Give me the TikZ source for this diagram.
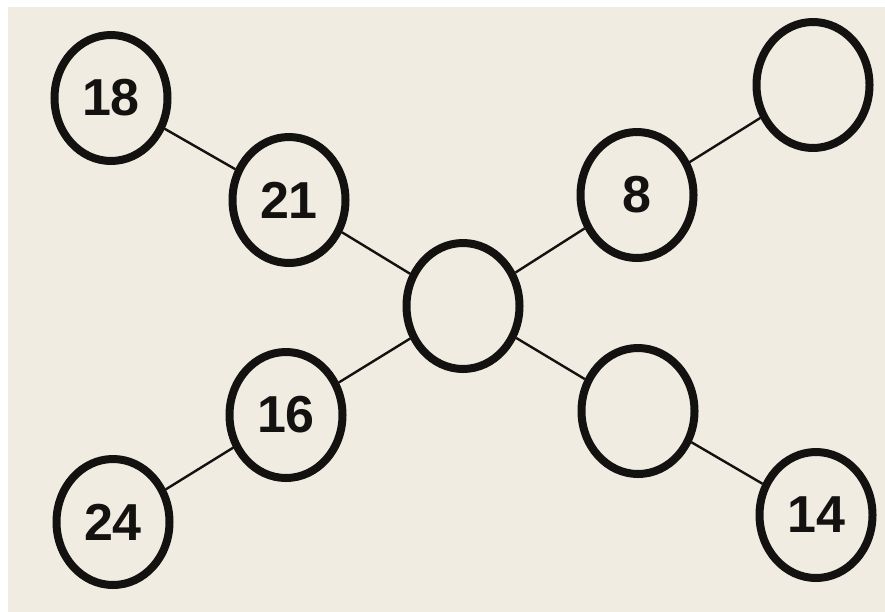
\documentclass[tikz,border=0pt]{standalone}
\usepackage{fontspec}
\setmainfont{Liberation Sans}
\usetikzlibrary{shapes.geometric}
\definecolor{sheetPaper}{HTML}{F0ECE1}
\definecolor{sheetInk}{HTML}{141210}
\tikzset{
  every picture/.style={font=\bfseries\fontsize{52}{58}\selectfont, text=sheetInk},
  sheet ring/.style={ellipse, draw=sheetInk, line width=8pt, fill=sheetPaper,
    minimum width=113pt, minimum height=126pt, inner sep=0pt},
  sheet link/.style={draw=sheetInk, line width=2.4pt}
}
\begin{document}
\begin{tikzpicture}[x=1pt,y=-1pt]
  \useasboundingbox (0,0) rectangle (885,611);
  \fill[white] (0,0) rectangle (885,611);
  \fill[sheetPaper] (8,7) rectangle (886,612);
  % rings
  \node[sheet ring] (hub) at (463,306) {};
  \node[sheet ring] (nwInner) at (289,200) {21};
  \node[sheet ring] (nwOuter) at (111,98) {18};
  \node[sheet ring] (neInner) at (637,195) {8};
  \node[sheet ring] (neOuter) at (813,85) {};
  \node[sheet ring] (swInner) at (286,415) {16};
  \node[sheet ring] (swOuter) at (113,522) {24};
  \node[sheet ring] (seInner) at (638,411) {};
  \node[sheet ring] (seOuter) at (816,515) {14};
  % links
  \draw[sheet link] (nwOuter) -- (nwInner);
  \draw[sheet link] (nwInner) -- (hub);
  \draw[sheet link] (hub) -- (neInner);
  \draw[sheet link] (neInner) -- (neOuter);
  \draw[sheet link] (hub) -- (swInner);
  \draw[sheet link] (swInner) -- (swOuter);
  \draw[sheet link] (hub) -- (seInner);
  \draw[sheet link] (seInner) -- (seOuter);
\end{tikzpicture}
\end{document}
